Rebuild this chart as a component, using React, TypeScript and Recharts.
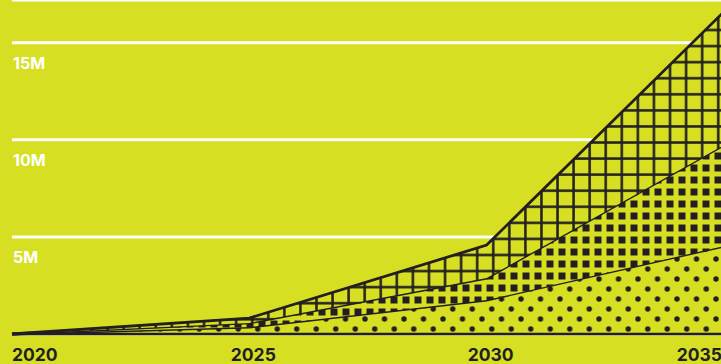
import React from "react";
import { AreaChart, Area, XAxis, YAxis, CartesianGrid } from "recharts";

const years = [2020, 2025, 2030, 2035];
const dotsSeries = [0, 0.36, 1.75, 4.53];
const squaresSeries = [0, 0.21, 1.13, 5.2];
const gridSeries = [0, 0.25, 1.7, 6.87];
const yTicks = [5, 10, 15];
const yTickLabels = ["5M", "10M", "15M"];

const BG = "#d7df23";
const DARK = "#231f20";

const data = years.map((y, i) => ({
  year: y,
  dots: dotsSeries[i],
  squares: squaresSeries[i],
  grid: gridSeries[i],
}));

const XTick = (props: any) => {
  const { x, payload, index } = props;
  const last = years.length - 1;
  const anchor = index === 0 ? "start" : index === last ? "end" : "middle";
  const dx = index === 0 ? 0 : index === last ? -2 : 4;
  return (
    <text
      x={x + dx}
      y={361}
      textAnchor={anchor}
      fill={DARK}
      fontFamily="Inter"
      fontWeight={700}
      fontSize={17.5}
    >
      {payload.value}
    </text>
  );
};

const YTick = (props: any) => {
  const { y, payload } = props;
  const idx = yTicks.indexOf(payload.value);
  if (idx < 0) return null;
  return (
    <text
      x={13}
      y={y + 26}
      textAnchor="start"
      fill="#ffffff"
      fontFamily="Inter"
      fontWeight={700}
      fontSize={16}
    >
      {yTickLabels[idx]}
    </text>
  );
};

export default function App() {
  return (
    <div
      style={{
        position: "absolute",
        left: 0,
        top: 0,
        width: 721,
        height: 364,
        overflow: "hidden",
        background: BG,
      }}
    >
      <AreaChart
        width={726}
        height={364}
        data={data}
        margin={{ top: 0, right: 2, bottom: 0, left: 10 }}
      >
        <defs>
          <pattern
            id="patDots"
            patternUnits="userSpaceOnUse"
            width={19.5}
            height={20}
            x={18.875}
            y={4}
          >
            <rect x={0} y={0} width={19.5} height={20} fill={BG} />
            <circle cx={4.875} cy={5} r={2.7} fill={DARK} />
            <circle cx={14.625} cy={15} r={2.7} fill={DARK} />
          </pattern>
          <pattern
            id="patSquares"
            patternUnits="userSpaceOnUse"
            width={12}
            height={12}
            x={4}
            y={6}
          >
            <rect x={0} y={0} width={12} height={12} fill={BG} />
            <rect x={2.5} y={2.5} width={7} height={7} fill={DARK} />
          </pattern>
          <pattern
            id="patGrid"
            patternUnits="userSpaceOnUse"
            width={16.07}
            height={16.07}
            x={3.1}
            y={5.9}
          >
            <rect x={0} y={0} width={16.07} height={16.07} fill={BG} />
            <rect x={6.8} y={0} width={2.5} height={16.07} fill={DARK} />
            <rect x={0} y={6.8} width={16.07} height={2.5} fill={DARK} />
          </pattern>
        </defs>
        <CartesianGrid
          horizontal={true}
          vertical={false}
          stroke="#ffffff"
          strokeWidth={3}
        />
        <XAxis
          dataKey="year"
          type="number"
          domain={[2020, 2035]}
          ticks={years}
          height={30}
          axisLine={{ stroke: DARK, strokeWidth: 2.5 }}
          tickLine={false}
          tick={<XTick />}
          interval={0}
        />
        <YAxis
          type="number"
          domain={[0, 17.2]}
          ticks={yTicks}
          width={2}
          axisLine={false}
          tickLine={false}
          tick={<YTick />}
          interval={0}
        />
        <Area
          type="linear"
          dataKey="dots"
          stackId="a"
          stroke={DARK}
          strokeWidth={2.8}
          fill="url(#patDots)"
          fillOpacity={1}
          isAnimationActive={false}
        />
        <Area
          type="linear"
          dataKey="squares"
          stackId="a"
          stroke={DARK}
          strokeWidth={2.8}
          fill="url(#patSquares)"
          fillOpacity={1}
          isAnimationActive={false}
        />
        <Area
          type="linear"
          dataKey="grid"
          stackId="a"
          stroke={DARK}
          strokeWidth={2.8}
          fill="url(#patGrid)"
          fillOpacity={1}
          isAnimationActive={false}
        />
      </AreaChart>
    </div>
  );
}
